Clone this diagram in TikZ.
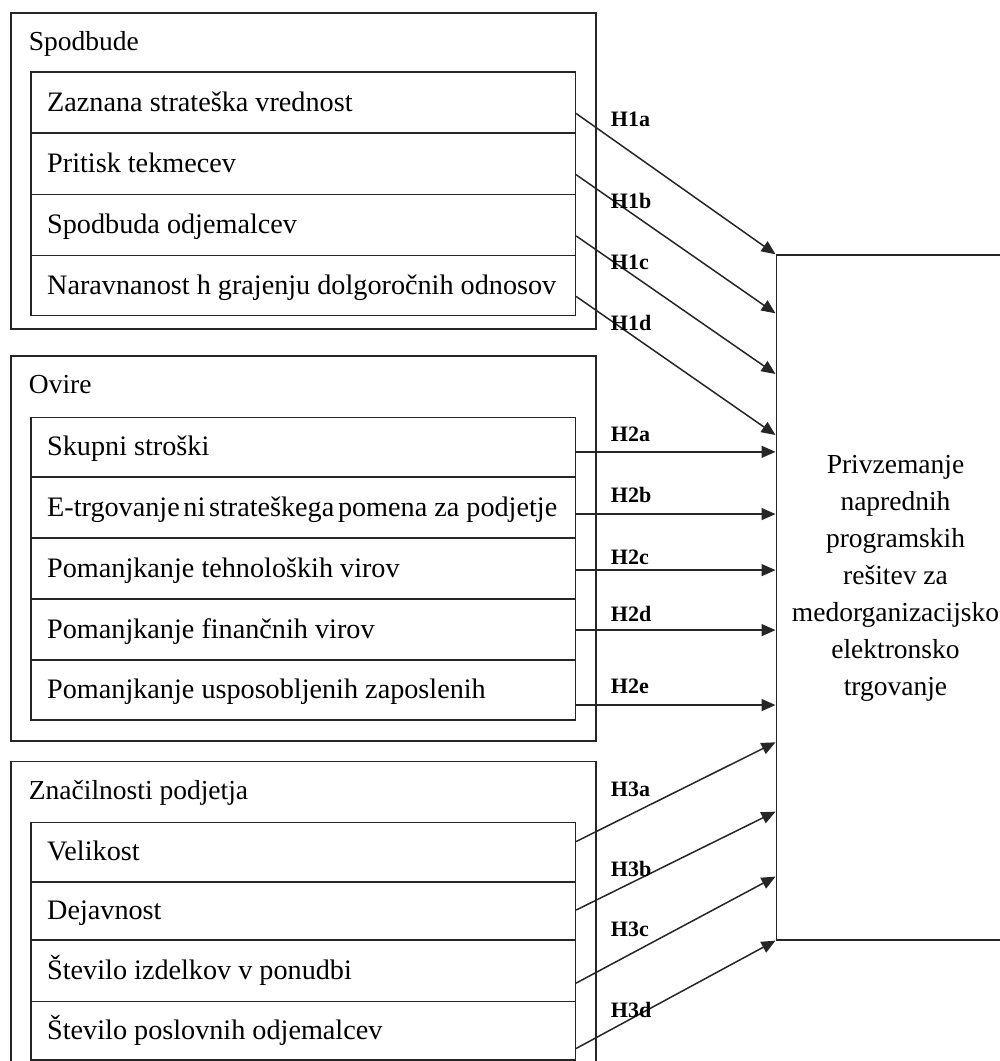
\documentclass[tikz,border=0pt]{standalone}
\usepackage{fontspec}
\setmainfont{Liberation Serif}
\usetikzlibrary{arrows.meta,calc}
\begin{document}
\begin{tikzpicture}[x=1pt,y=-1pt,
  box/.style={draw=black!85, line width=1.6pt, inner sep=0pt, anchor=north west},
  rowbox/.style={box, minimum width=544.5pt},
  grpbox/.style={box, minimum width=584.7pt},
  grptxt/.style={anchor=base west, inner sep=0pt, font=\fontsize{27.5}{33}\selectfont},
  itemtxt/.style={anchor=base west, inner sep=0pt, font=\fontsize{28.2}{33}\selectfont},
  hlab/.style={anchor=base west, inner sep=0pt, font=\fontsize{22}{26}\selectfont\bfseries},
  arr/.style={draw=black!85, line width=1.5pt, -{Triangle[length=14pt,width=12pt]}}]

\useasboundingbox (0,0) rectangle (1000,1061);
\clip (0,0) rectangle (1000,1061);

% ---------- group boxes ----------
\node[grpbox, minimum height=316pt] (G1) at (10.3,12.3) {};
\node[grpbox, minimum height=385pt] (G2) at (10.3,355) {};
\node[grpbox, minimum height=340pt] (G3) at (10.3,760.7) {};

\node[grptxt] (L1) at ([xshift=18.4pt,yshift=-38.6pt]G1.north west) {Spodbude};
\node[grptxt] (L2) at ([xshift=18.4pt,yshift=-38.6pt]G2.north west) {Ovire};
\node[grptxt] (L3) at ([xshift=18.4pt,yshift=-38.6pt]G3.north west) {Značilnosti podjetja};

% ---------- Spodbude rows ----------
\node[rowbox, minimum height=61.3pt] (s1) at (30,71) {};
\node[rowbox, minimum height=61.2pt] (s2) at (30,132.3) {};
\node[rowbox, minimum height=61.2pt] (s3) at (30,193.5) {};
\node[rowbox, minimum height=59.8pt] (s4) at (30,254.7) {};
\node[itemtxt] (ts1) at ([xshift=17pt,yshift=-8.7pt]s1.west) {Zaznana strateška vrednost};
\node[itemtxt] (ts2) at ([xshift=17pt,yshift=-8.7pt]s2.west) {Pritisk tekmecev};
\node[itemtxt] (ts3) at ([xshift=17pt,yshift=-8.7pt]s3.west) {Spodbuda odjemalcev};
\node[itemtxt] (ts4) at ([xshift=17pt,yshift=-8.7pt]s4.west) {Naravnanost h grajenju dolgoročnih odnosov};

% ---------- Ovire rows ----------
\node[rowbox, minimum height=59.3pt] (o1) at (30,416.7) {};
\node[rowbox, minimum height=61.3pt] (o2) at (30,476) {};
\node[rowbox, minimum height=61pt] (o3) at (30,537.3) {};
\node[rowbox, minimum height=61pt] (o4) at (30,598.3) {};
\node[rowbox, minimum height=59.7pt] (o5) at (30,659.3) {};
\node[itemtxt] (to1) at ([xshift=17pt,yshift=-8.7pt]o1.west) {Skupni stroški};
\node[itemtxt] (to2) at ([xshift=17pt,yshift=-8.7pt]o2.west) {E-trgovanje\hspace{0.13em}ni\hspace{0.13em}strateškega\hspace{0.13em}pomena za podjetje};
\node[itemtxt] (to3) at ([xshift=17pt,yshift=-8.7pt]o3.west) {Pomanjkanje tehnoloških virov};
\node[itemtxt] (to4) at ([xshift=17pt,yshift=-8.7pt]o4.west) {Pomanjkanje finančnih virov};
\node[itemtxt] (to5) at ([xshift=17pt,yshift=-8.7pt]o5.west) {Pomanjkanje usposobljenih zaposlenih};

% ---------- Značilnosti rows ----------
\node[rowbox, minimum height=59.3pt] (z1) at (30,821.7) {};
\node[rowbox, minimum height=58.3pt] (z2) at (30,881) {};
\node[rowbox, minimum height=61.4pt] (z3) at (30,939.3) {};
\node[rowbox, minimum height=58.6pt] (z4) at (30,1000.7) {};
\node[itemtxt] (tz1) at ([xshift=17pt,yshift=-8.7pt]z1.west) {Velikost};
\node[itemtxt] (tz2) at ([xshift=17pt,yshift=-8.7pt]z2.west) {Dejavnost};
\node[itemtxt] (tz3) at ([xshift=17pt,yshift=-8.7pt]z3.west) {Število izdelkov v ponudbi};
\node[itemtxt] (tz4) at ([xshift=17pt,yshift=-8.7pt]z4.west) {Število poslovnih odjemalcev};

% ---------- target ----------
\node[box, minimum width=240pt, minimum height=684.7pt] (T) at (775.5,254.3) {};
\node[align=center, inner sep=0pt, font=\fontsize{27.5}{37}\selectfont] (Tt) at (895.5,578)
  {Privzemanje\\naprednih\\programskih\\rešitev za\\medorganizacijsko\\elektronsko\\trgovanje};

% ---------- arrows ----------
\draw[arr] ([yshift=-11pt]s1.east) -- (T.north west);
\draw[arr] ([yshift=-11pt]s2.east) -- ([yshift=-59pt]T.north west);
\draw[arr] ([yshift=-11pt]s3.east) -- ([yshift=-119.7pt]T.north west);
\draw[arr] ([yshift=-11pt]s4.east) -- ([yshift=-180.7pt]T.north west);

\draw[arr] ([yshift=-4.7pt]o1.east) -- ([yshift=-4.7pt]o1.east -| T.west);
\draw[arr] ([yshift=-6.6pt]o2.east) -- ([yshift=-6.6pt]o2.east -| T.west);
\draw[arr] ([yshift=-1.5pt]o3.east) -- ([yshift=-1.5pt]o3.east -| T.west);
\draw[arr] ([yshift=-0.5pt]o4.east) -- ([yshift=-0.5pt]o4.east -| T.west);
\draw[arr] ([yshift=-15.1pt]o5.east) -- ([yshift=-15.1pt]o5.east -| T.west);

\draw[arr] ([yshift=10.6pt]z1.east) -- ([yshift=198.3pt]T.south west);
\draw[arr] ([yshift=0.9pt]z2.east) -- ([yshift=129pt]T.south west);
\draw[arr] ([yshift=-12.3pt]z3.east) -- ([yshift=64pt]T.south west);
\draw[arr] ([yshift=-17.7pt]z4.east) -- (T.south west);

% ---------- labels ----------
\node[hlab] (h1a) at (610.7,126.7) {H1a};
\node[hlab] (h1b) at (610.7,208.3) {H1b};
\node[hlab] (h1c) at (610.7,269.3) {H1c};
\node[hlab] (h1d) at (610.7,330) {H1d};
\node[hlab] (h2a) at (610.7,441.7) {H2a};
\node[hlab] (h2b) at (610.7,502.7) {H2b};
\node[hlab] (h2c) at (610.7,564) {H2c};
\node[hlab] (h2d) at (610.7,621.7) {H2d};
\node[hlab] (h2e) at (610.7,693.3) {H2e};
\node[hlab] (h3a) at (610.7,796) {H3a};
\node[hlab] (h3b) at (610.7,876.7) {H3b};
\node[hlab] (h3c) at (610.7,936.7) {H3c};
\node[hlab] (h3d) at (610.7,1017.7) {H3d};
\end{tikzpicture}
\end{document}
